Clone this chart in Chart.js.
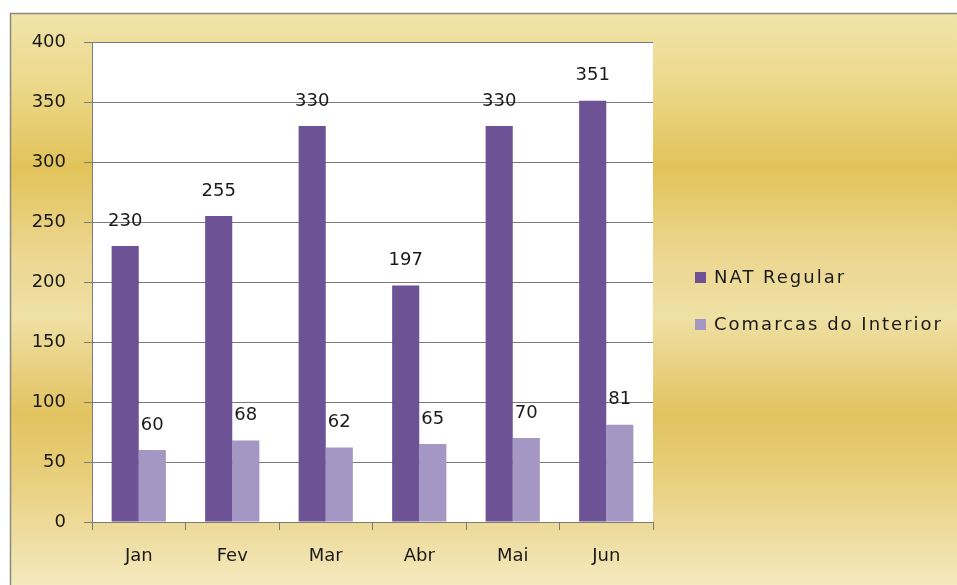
<!DOCTYPE html>
<html>
<head>
<meta charset="utf-8">
<script src="https://cdn.jsdelivr.net/npm/chart.js@4/dist/chart.umd.min.js"></script>
<style>
  html, body { margin: 0; padding: 0; background: #fff; }
  #wrap { width: 957px; height: 585px; position: relative; }
</style>
</head>
<body>
<div id="wrap"><canvas id="chart" width="957" height="585"></canvas></div>
<script>
var months = ["Jan", "Fev", "Mar", "Abr", "Mai", "Jun"];
var natRegular = [230, 255, 330, 197, 330, 351];
var comarcas = [60, 68, 62, 65, 70, 81];
var seriesNames = ["NAT Regular", "Comarcas do Interior"];
var yTicks = [0, 50, 100, 150, 200, 250, 300, 350, 400];

var FONT = "'DejaVu Sans', sans-serif";

// gold background + white plot area + outer frame
var backdrop = {
    id: "backdrop",
    beforeDraw: (chart) => {
        let ctx = chart.ctx;
        let a = chart.chartArea;
        ctx.save();
        ctx.fillStyle = "#fff";
        ctx.fillRect(0, 0, chart.width, chart.height);
        let g = ctx.createLinearGradient(0, 13, 0, 585);
        g.addColorStop(0, "#f1e4aa");
        g.addColorStop(0.12, "#ecd98c");
        g.addColorStop(0.27, "#e2c35a");
        g.addColorStop(0.42, "#ecd690");
        g.addColorStop(0.53, "#efe0a4");
        g.addColorStop(0.70, "#e2c361");
        g.addColorStop(0.82, "#e9d07e");
        g.addColorStop(1, "#f4e9bf");
        ctx.fillStyle = g;
        ctx.fillRect(10, 13, chart.width - 10, chart.height - 13);
        ctx.strokeStyle = "#8a8a80";
        ctx.lineWidth = 1.5;
        ctx.strokeRect(10.5, 13.5, chart.width + 10, chart.height + 10);
        ctx.fillStyle = "#fff";
        ctx.fillRect(a.left, a.top, a.right - a.left, a.bottom - a.top);
        ctx.restore();
    }
};

// value labels above bars and legend on the right
var labelsAndLegend = {
    id: "labelsAndLegend",
    afterDatasetsDraw: (chart) => {
        let ctx = chart.ctx;
        ctx.save();
        ctx.font = "18px " + FONT;
        ctx.fillStyle = "#1a1a1a";
        ctx.textAlign = "center";
        ctx.textBaseline = "middle";
        chart.data.datasets.forEach((ds, i) => {
            chart.getDatasetMeta(i).data.forEach((bar, j) => {
                ctx.fillText(String(ds.data[j]), bar.x, bar.y - 25);
            });
        });
        ctx.textAlign = "left";
        ctx.font = "18px " + FONT;
        ctx.letterSpacing = "2px";
        chart.data.datasets.forEach((ds, i) => {
            let y = 278 + i * 47;
            ctx.fillStyle = ds.backgroundColor;
            ctx.fillRect(695, y - 6, 11, 11);
            ctx.fillStyle = "#1a1a1a";
            ctx.fillText(ds.label, 714, y);
        });
        ctx.restore();
    }
};

new Chart(document.getElementById("chart"), {
    type: "bar",
    data: {
        labels: months,
        datasets: [
            {
                label: seriesNames[0],
                data: natRegular,
                backgroundColor: "#6e5296",
                categoryPercentage: 0.58,
                barPercentage: 1.0
            },
            {
                label: seriesNames[1],
                data: comarcas,
                backgroundColor: "#a497c3",
                categoryPercentage: 0.58,
                barPercentage: 1.0
            }
        ]
    },
    options: {
        responsive: false,
        animation: false,
        layout: { padding: { left: 10, top: 42, right: 304, bottom: 0 } },
        plugins: {
            legend: { display: false },
            tooltip: { enabled: false }
        },
        scales: {
            x: {
                afterFit: (s) => { s.height = 63; },
                grid: {
                    drawOnChartArea: false,
                    color: "#7a7a7a",
                    tickLength: 8,
                    offset: true
                },
                border: { color: "#7a7a7a" },
                ticks: {
                    color: "#1a1a1a",
                    font: { family: FONT, size: 18 },
                    padding: 16
                }
            },
            y: {
                min: 0,
                max: 400,
                afterFit: (s) => { s.width = 82; },
                afterBuildTicks: (s) => { s.ticks = yTicks.map((v) => ({ value: v })); },
                grid: { color: "#7a7a7a", tickLength: 8 },
                border: { color: "#7a7a7a" },
                ticks: {
                    color: "#1a1a1a",
                    font: { family: FONT, size: 18 },
                    padding: 18
                }
            }
        }
    },
    plugins: [backdrop, labelsAndLegend]
});
</script>
</body>
</html>
